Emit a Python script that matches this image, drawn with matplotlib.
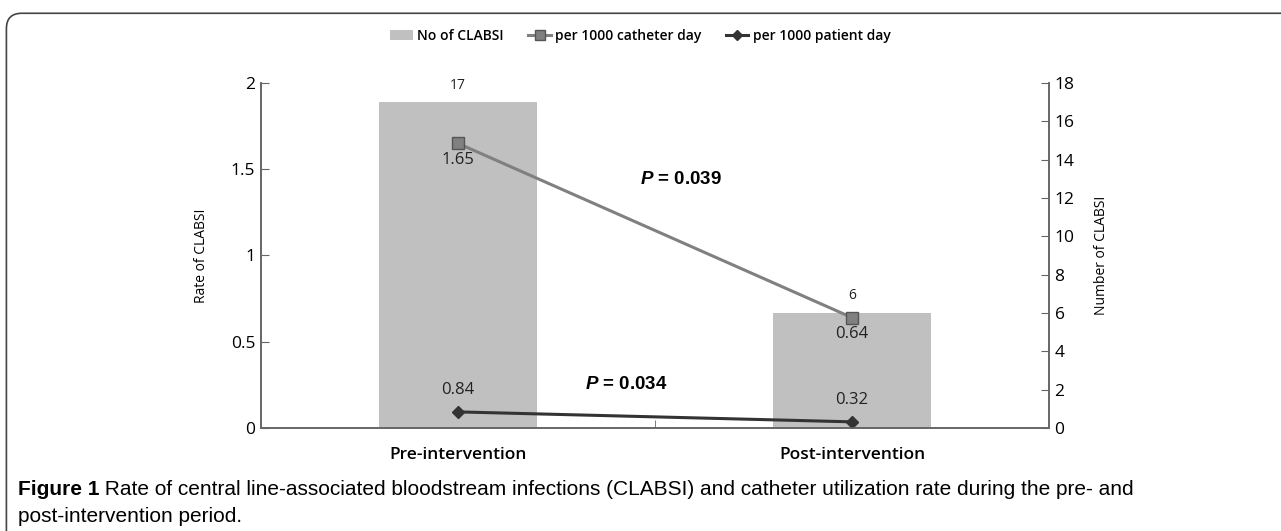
import matplotlib
matplotlib.use("Agg")
import matplotlib.pyplot as plt
from matplotlib.patches import FancyBboxPatch
from matplotlib.lines import Line2D
from matplotlib.patches import Patch

periods = ["Pre-intervention", "Post-intervention"]
clabsi_count = [17, 6]
per_catheter_day = [1.65, 0.64]
per_patient_day = [0.84, 0.32]
p_catheter = "0.039"
p_patient = "0.034"

plt.rcParams['font.family'] = ['Open Sans', 'DejaVu Sans']
plt.rcParams['mathtext.fontset'] = 'custom'
plt.rcParams['mathtext.bfit'] = 'Liberation Sans:italic:bold'
plt.rcParams['mathtext.rm'] = 'Liberation Sans'

fig = plt.figure(figsize=(12.81, 5.31), dpi=100)

# rounded frame around the figure (clipped at right/bottom like the original)
frame = FancyBboxPatch((0.005, -0.05), 1.05, 1.025, boxstyle="round,pad=0,rounding_size=0.012",
                       transform=fig.transFigure, facecolor="none", edgecolor="#444444",
                       linewidth=1.2, mutation_aspect=1281 / 531)
fig.patches.append(frame)

ax = fig.add_axes([0.2037, 0.194, 0.6152, 0.6497])
ax2 = ax.twinx()
ax.set_zorder(ax2.get_zorder() + 1)
ax.patch.set_visible(False)

x = list(range(len(periods)))

ax2.bar(x, clabsi_count, width=0.4, color="#c0c0c0", zorder=1)
for xi, v in zip(x, clabsi_count):
    ax2.text(xi, v + 0.5, str(v), ha="center", va="bottom", fontsize=10, color="#222222")

ax.plot(x, per_catheter_day, color="#808080", linewidth=2.2, marker="s", markersize=8,
        markerfacecolor="#808080", markeredgecolor="#555555", zorder=3)
for xi, v in zip(x, per_catheter_day):
    ax.text(xi, v - 0.05, f"{v:.2f}", ha="center", va="top", fontsize=12, color="#222222")

ax2.plot(x, per_patient_day, color="#333333", linewidth=2.2, marker="D", markersize=6,
         markerfacecolor="#333333", zorder=3)
for xi, v in zip(x, per_patient_day):
    ax2.text(xi, v + 0.7, f"{v:.2f}", ha="center", va="bottom", fontsize=12, color="#222222")

pfont = ['Liberation Sans', 'DejaVu Sans']
ax.text(0.566, 1.443, r"$\bfit{P}$ = " + p_catheter, fontsize=13.5, fontweight="bold",
        family=pfont, ha="center", va="center")
ax.text(0.426, 0.25, r"$\bfit{P}$ = " + p_patient, fontsize=13.5, fontweight="bold",
        family=pfont, ha="center", va="center")

ax.set_xlim(-0.5, 1.5)
ax.set_ylim(0, 2)
ax2.set_ylim(0, 18)
ax.set_yticks([0, 0.5, 1, 1.5, 2])
ax.set_yticklabels(["0", "0.5", "1", "1.5", "2"])
ax2.set_yticks(range(0, 19, 2))

ax.set_xticks(x)
ax.set_xticklabels(periods, fontsize=12.5, fontweight="semibold")
ax.set_xticks([0.5], minor=True)
ax.tick_params(axis="x", which="major", length=0, pad=14)
ax.tick_params(axis="x", which="minor", direction="in", length=6, color="#666666")
ax.tick_params(axis="y", direction="in", length=6, labelsize=12.5, color="#666666", pad=4)
ax2.tick_params(axis="y", direction="in", length=6, labelsize=12.5, color="#666666", pad=4)

for a in (ax, ax2):
    a.spines["top"].set_visible(False)
    for s in ("left", "right", "bottom"):
        a.spines[s].set_color("#666666")
        a.spines[s].set_linewidth(1.2)

ax.set_ylabel("Rate of CLABSI", fontsize=10, labelpad=16)
ax2.set_ylabel("Number of CLABSI", fontsize=10, labelpad=14)

handles = [Patch(facecolor="#c0c0c0", edgecolor="none"),
           Line2D([], [], color="#808080", lw=2.2, marker="s", markersize=7,
                  markerfacecolor="#808080", markeredgecolor="#555555"),
           Line2D([], [], color="#333333", lw=2.2, marker="D", markersize=5)]
fig.legend(handles, ["No of CLABSI", "per 1000 catheter day", "per 1000 patient day"],
           loc="center", bbox_to_anchor=(0.5, 0.932), ncol=3, frameon=False,
           handlelength=1.6, columnspacing=1.8, handletextpad=0.3,
           prop={"weight": "semibold", "size": 10})

cap_font = ['Liberation Sans', 'DejaVu Sans']
cap_size = 15
fig1 = fig.text(0.014, 0.079, "Figure 1", fontsize=cap_size, fontweight="bold", family=cap_font,
                va="center")
rest = fig.text(0.1, 0.079, " Rate of central line-associated bloodstream infections (CLABSI) and catheter utilization rate during the pre- and",
                fontsize=cap_size, family=cap_font, va="center", ha="left")
fig.canvas.draw()
bb = fig1.get_window_extent().transformed(fig.transFigure.inverted())
rest.set_position((bb.x1, 0.079))
fig.text(0.014, 0.028, "post-intervention period.", fontsize=cap_size, family=cap_font, va="center")

fig.savefig("out.png", dpi=100)
